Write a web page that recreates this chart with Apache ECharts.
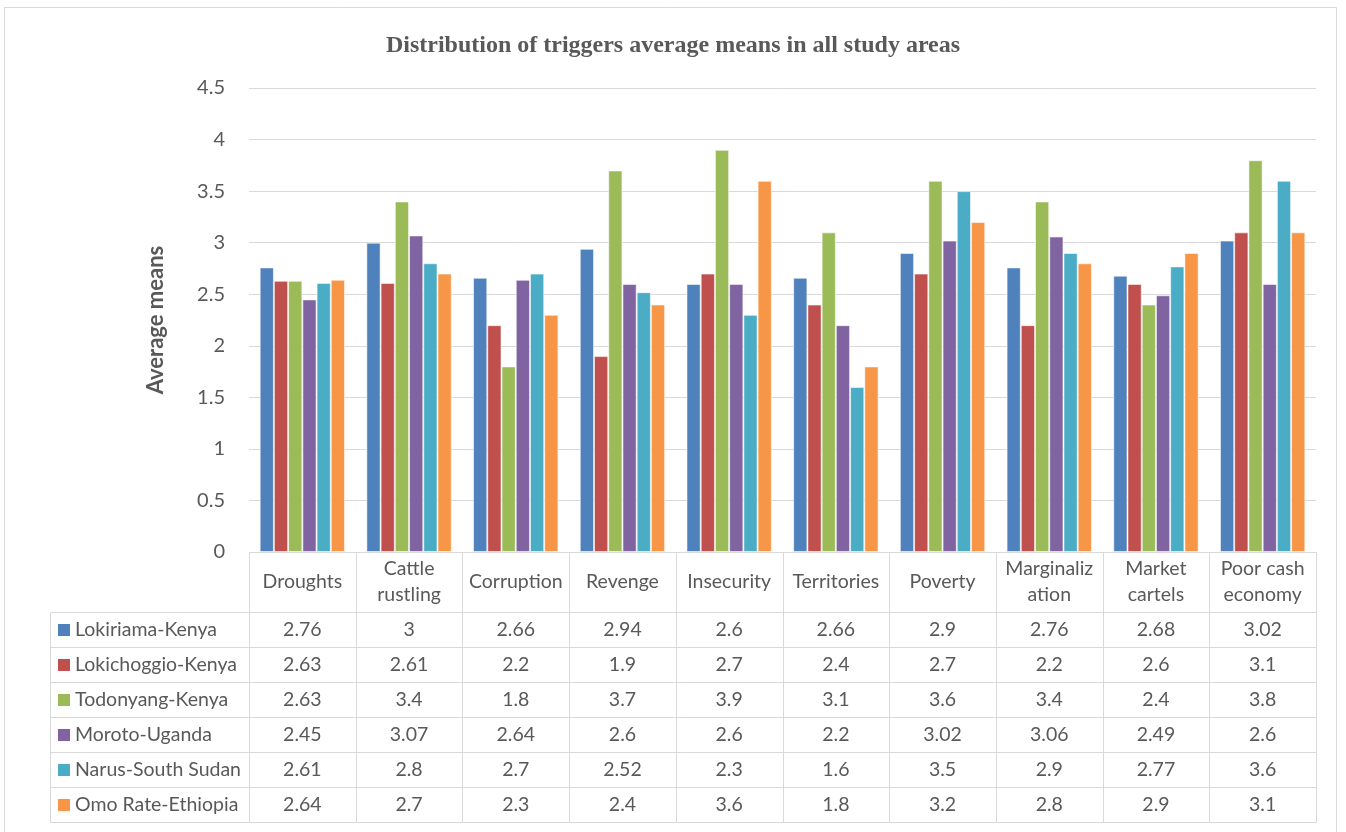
<!DOCTYPE html>
<html>
<head>
<meta charset="utf-8">
<title>Distribution of triggers average means in all study areas</title>
<script src="https://cdn.jsdelivr.net/npm/echarts@6/dist/echarts.min.js"></script>
<style>
  html, body { margin: 0; padding: 0; background: #fff; }
  #chart { width: 1346px; height: 832px; }
</style>
</head>
<body>
<div id="chart"></div>
<script>
// Trigger categories (column headers of the data table)
const categories = ['Droughts', 'Cattle\nrustling', 'Corruption', 'Revenge', 'Insecurity',
  'Territories', 'Poverty', 'Marginaliz\nation', 'Market\ncartels', 'Poor cash\neconomy'];

// Study areas (one series per area)
const areaNames = ['Lokiriama-Kenya', 'Lokichoggio-Kenya', 'Todonyang-Kenya',
  'Moroto-Uganda', 'Narus-South Sudan', 'Omo Rate-Ethiopia'];

const lokiriama   = [2.76, 3,    2.66, 2.94, 2.6, 2.66, 2.9,  2.76, 2.68, 3.02];
const lokichoggio = [2.63, 2.61, 2.2,  1.9,  2.7, 2.4,  2.7,  2.2,  2.6,  3.1];
const todonyang   = [2.63, 3.4,  1.8,  3.7,  3.9, 3.1,  3.6,  3.4,  2.4,  3.8];
const moroto      = [2.45, 3.07, 2.64, 2.6,  2.6, 2.2,  3.02, 3.06, 2.49, 2.6];
const narus       = [2.61, 2.8,  2.7,  2.52, 2.3, 1.6,  3.5,  2.9,  2.77, 3.6];
const omoRate     = [2.64, 2.7,  2.3,  2.4,  3.6, 1.8,  3.2,  2.8,  2.9,  3.1];

const seriesValues = [lokiriama, lokichoggio, todonyang, moroto, narus, omoRate];
const colors = ['#4F81BD', '#C0504D', '#9BBB59', '#8064A2', '#4BACC6', '#F79646'];

// Value axis ticks
const yMin = 0, yMax = 4.5, yStep = 0.5;

// Layout of the plot area and the data table below it
const L = {
  plotLeft: 249, plotRight: 1316, plotTop: 88, plotBottom: 552,
  tableLeft: 50, headerH: 60, rowH: 35
};
const textColor = '#595959';
const lineColor = '#d9d9d9';
const baseFont = 'Lato, "Open Sans", sans-serif';
const tableFont = '19.5px ' + baseFont;

const chart = echarts.init(document.getElementById('chart'), null, { renderer: 'canvas' });

// Build the data table (header row, legend keys, value cells) as graphic elements
function buildTable() {
  const els = [];
  const n = categories.length;
  const colW = (L.plotRight - L.plotLeft) / n;
  const headerTop = L.plotBottom;
  const rowsTop = headerTop + L.headerH;
  const tableBottom = rowsTop + L.rowH * areaNames.length;
  const px = v => Math.round(v) + 0.5;
  const line = (x1, y1, x2, y2) => ({
    type: 'line', silent: true,
    shape: { x1: px(x1), y1: px(y1), x2: px(x2), y2: px(y2) },
    style: { stroke: lineColor, lineWidth: 1 }
  });

  // horizontal rules
  els.push(line(L.plotLeft, headerTop, L.plotRight, headerTop));
  for (let r = 0; r <= areaNames.length; r++) {
    const y = rowsTop + r * L.rowH;
    els.push(line(L.tableLeft, y, L.plotRight, y));
  }
  // vertical rules
  for (let c = 0; c <= n; c++) {
    const x = L.plotLeft + c * colW;
    els.push(line(x, headerTop, x, tableBottom));
  }
  els.push(line(L.tableLeft, rowsTop, L.tableLeft, tableBottom));

  // column headers
  categories.forEach((cat, c) => {
    els.push({
      type: 'text', silent: true,
      x: L.plotLeft + (c + 0.5) * colW, y: headerTop + L.headerH / 2,
      style: {
        text: cat, font: tableFont, fill: textColor,
        textAlign: 'center', textVerticalAlign: 'middle', lineHeight: 26
      }
    });
  });

  // rows: legend key, area name, values
  areaNames.forEach((name, r) => {
    const cy = rowsTop + (r + 0.5) * L.rowH;
    els.push({
      type: 'rect', silent: true,
      shape: { x: 58, y: Math.round(cy) - 6, width: 12, height: 12 },
      style: { fill: colors[r] }
    });
    els.push({
      type: 'text', silent: true, x: 75, y: cy,
      style: {
        text: name, font: tableFont, fill: textColor,
        textAlign: 'left', textVerticalAlign: 'middle'
      }
    });
    seriesValues[r].forEach((v, c) => {
      els.push({
        type: 'text', silent: true,
        x: L.plotLeft + (c + 0.5) * colW, y: cy,
        style: {
          text: String(v), font: tableFont, fill: textColor,
          textAlign: 'center', textVerticalAlign: 'middle'
        }
      });
    });
  });

  // outer chart frame
  els.push({
    type: 'rect', silent: true,
    shape: { x: 4.5, y: 7.5, width: 1332, height: 840 },
    style: { fill: null, stroke: lineColor, lineWidth: 1 }
  });
  return els;
}

const option = {
  animation: false,
  backgroundColor: '#fff',
  color: colors,
  title: {
    text: 'Distribution of triggers average means in all study areas',
    left: 'center', top: 29,
    textStyle: {
      fontFamily: '"Liberation Serif", "Times New Roman", serif',
      fontWeight: 'bold', fontSize: 24, color: textColor
    }
  },
  grid: {
    left: L.plotLeft, top: L.plotTop,
    width: L.plotRight - L.plotLeft, height: L.plotBottom - L.plotTop,
    containLabel: false
  },
  xAxis: {
    type: 'category',
    data: categories,
    axisLine: { show: false },
    axisTick: { show: false },
    axisLabel: { show: false },
    splitLine: { show: false }
  },
  yAxis: {
    type: 'value',
    min: yMin, max: yMax, interval: yStep,
    name: 'Average means',
    nameLocation: 'middle',
    nameGap: 82,
    nameTextStyle: { fontFamily: baseFont, fontWeight: 'bold', fontSize: 22, color: textColor },
    axisLine: { show: false },
    axisTick: { show: false },
    axisLabel: { fontFamily: baseFont, fontSize: 20, color: textColor, margin: 24 },
    splitLine: { lineStyle: { color: lineColor, width: 1 } }
  },
  series: areaNames.map((name, i) => ({
    name: name,
    type: 'bar',
    data: seriesValues[i],
    barGap: '0%',
    barCategoryGap: '20%',
    itemStyle: { color: colors[i], borderColor: 'rgba(255,255,255,0.55)', borderWidth: 1 }
  })),
  graphic: buildTable()
};

chart.setOption(option);
</script>
</body>
</html>
